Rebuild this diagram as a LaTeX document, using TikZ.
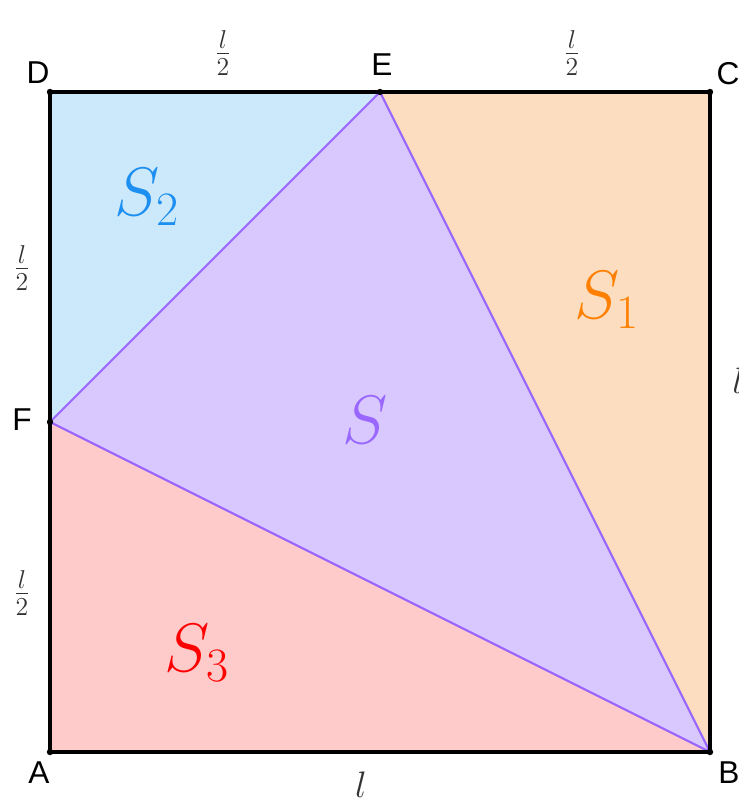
\RequirePackage{fix-cm}
\documentclass[tikz,border=0pt]{standalone}
\usepackage{fontspec}
\newfontfamily\labfont{Liberation Sans}
\definecolor{blueF}{HTML}{CCE8FB}
\definecolor{orangeF}{HTML}{FDDDBF}
\definecolor{purpleF}{HTML}{D9C8FE}
\definecolor{redF}{HTML}{FECACA}
\definecolor{purpleL}{HTML}{9966FF}
\definecolor{sblue}{HTML}{1C8FF0}
\definecolor{sorange}{HTML}{FF7F00}
\definecolor{sred}{HTML}{FF0000}
\definecolor{lgray}{HTML}{333333}
\begin{document}
\begin{tikzpicture}[x=0.02cm,y=-0.02cm,
  ptlabel/.style={font=\labfont\fontsize{18}{20}\selectfont, text=black, inner sep=0pt},
  lenlabel/.style={font=\fontsize{21}{25}\selectfont, text=lgray, inner sep=0pt},
  arealabel/.style={font=\fontsize{39}{44}\selectfont, inner sep=0pt},
  sqedge/.style={draw=black, line width=1.9pt, line join=round},
  triedge/.style={draw=purpleL, line width=1.2pt, line join=round},
  dotmark/.style={fill=black}]
\useasboundingbox (0,0) rectangle (739,802);
\coordinate (D) at (50,92);
\coordinate (E) at (380,92);
\coordinate (C) at (710,92);
\coordinate (F) at (50,422);
\coordinate (A) at (50,752);
\coordinate (B) at (710,752);
% regions
\fill[blueF] (D) -- (E) -- (F) -- cycle;
\fill[orangeF] (E) -- (C) -- (B) -- cycle;
\fill[redF] (F) -- (B) -- (A) -- cycle;
\fill[purpleF] (E) -- (F) -- (B) -- cycle;
\draw[triedge] (E) -- (F) -- (B) -- cycle;
\draw[sqedge] (A) -- (B) -- (C) -- (D) -- cycle;
\foreach \p in {A,B,C,D,E,F} \fill[dotmark] (\p) circle (3.2);
% point labels
\node[ptlabel] (lD) at (38,73) {D};
\node[ptlabel] (lE) at (382,65) {E};
\node[ptlabel] (lC) at (728,74) {C};
\node[ptlabel] (lF) at (22,420) {F};
\node[ptlabel] (lA) at (39,773) {A};
\node[ptlabel] (lB) at (729,773) {B};
% length labels
\node[lenlabel] (h1) at (223,53) {$\frac{l}{2}$};
\node[lenlabel] (h2) at (572,53) {$\frac{l}{2}$};
\node[lenlabel] (h3) at (22,268) {$\frac{l}{2}$};
\node[lenlabel] (h4) at (22,593) {$\frac{l}{2}$};
\node[lenlabel] (lb) at (361,785) {$l$};
\node[lenlabel, anchor=west] (lr) at (732,381) {$l$};
% area labels
\node[arealabel, text=sblue] (s2) at (147,197) {$S_2$};
\node[arealabel, text=sorange] (s1) at (607,300) {$S_1$};
\node[arealabel, text=purpleL] (s) at (365,420) {$S$};
\node[arealabel, text=sred] (s3) at (197,653) {$S_3$};
\end{tikzpicture}
\end{document}
